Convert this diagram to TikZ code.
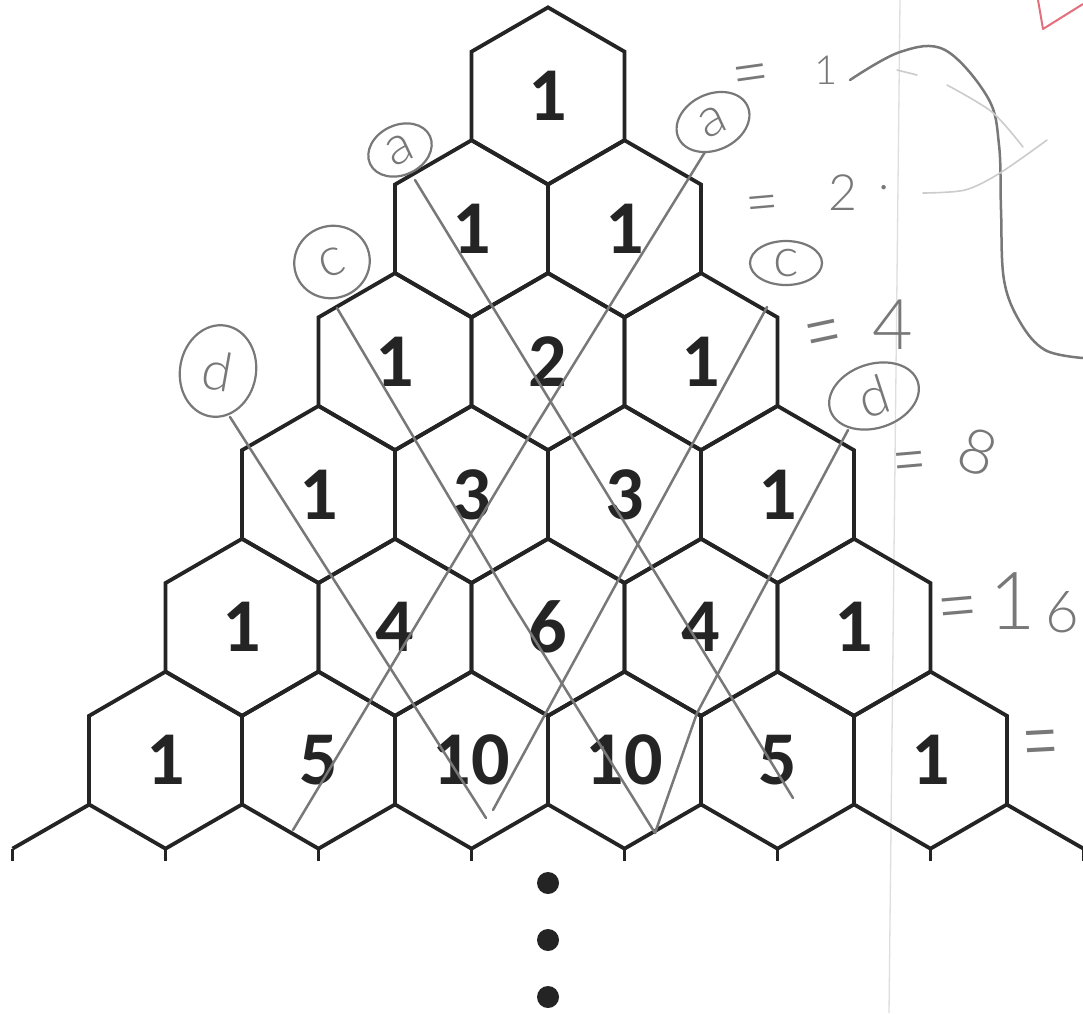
\documentclass[tikz,border=0pt]{standalone}
\usepackage{fontspec}
\usepackage{graphicx}
\usetikzlibrary{shapes.geometric}
\newfontfamily\numfont{Carlito}
\newfontfamily\pencilfont{Lato Light}
\definecolor{hexink}{gray}{0.14}
\definecolor{pencil}{gray}{0.47}
\definecolor{pencillight}{gray}{0.8}
\definecolor{pageline}{gray}{0.87}
\definecolor{redpen}{RGB}{226,112,124}
\begin{document}
\begin{tikzpicture}[x=1pt, y={(0pt,-1pt)},
  hexline/.style={draw=hexink, line width=3.8pt, line join=miter},
  num/.style={font=\numfont\bfseries\fontsize{76}{76}\selectfont, text=hexink, inner sep=0pt},
  pen/.style={draw=pencil, line width=2.5pt, line cap=round, line join=round},
  penfaint/.style={draw=pencillight, line width=1.6pt, line cap=round},
  pentext/.style={text=pencil, inner sep=0pt, font=\pencilfont\fontsize{#1}{#1}\selectfont},
  pentext/.default=50,
  pencirc/.style={ellipse, draw=pencil, line width=2.2pt, inner sep=0pt, text=pencil,
    font=\pencilfont\fontsize{54}{54}\selectfont},
  dotnode/.style={circle, fill=hexink, inner sep=0pt, minimum size=22pt},
]
\clip (0,0) rectangle (1083,1013);
\fill[white] (0,0) rectangle (1083,1013);
% page fold line
\draw[pageline, line width=1.3pt] (900,0) -- (889,1013);
% hexagons and numbers
\foreach \r/\vals in {0/{1},1/{1,1},2/{1,2,1},3/{1,3,3,1},4/{1,4,6,4,1},5/{1,5,10,10,5,1}}{
  \foreach \v [count=\k from 0] in \vals {
    \pgfmathsetmacro\cx{548-76.5*\r+153*\k}
    \pgfmathsetmacro\cy{95.9+132.85*\r}
    \draw[hexline] (\cx,\cy) +(0,-88.5) -- +(76.5,-44.25) -- +(76.5,44.25) -- +(0,88.5)
      -- +(-76.5,44.25) -- +(-76.5,-44.25) -- cycle;
    \node[num] (n\r-\k) at (\cx,\cy) {\v};
  }
}
% next row (cut)
\draw[hexline] (89.5,804.4) -- (12.5,848.65);
\draw[hexline] (1006.5,804.4) -- (1083.5,848.65);
\foreach \j in {0,...,7}{
  \draw[hexline] ({12.5+153*\j},848.65) -- ({12.5+153*\j},861);
}
% dots
\node[dotnode] (dot1) at (548,883) {};
\node[dotnode] (dot2) at (548,940) {};
\node[dotnode] (dot3) at (548,997) {};
% pencil circles
\node[pencirc, minimum width=66pt, minimum height=50pt, rotate=25] (ca1) at (400,150) {a};
\node[pencirc, minimum width=76pt, minimum height=56pt, rotate=25] (ca2) at (713,122) {a};
\node[pencirc, minimum width=76pt, minimum height=72pt, rotate=20] (cc1) at (332,262) {c};
\node[pencirc, minimum width=72pt, minimum height=44pt] (cc2) at (786,263) {c};
\node[pencirc, minimum width=76pt, minimum height=92pt, rotate=-10] (cd1) at (218,371) {d};
\node[pencirc, minimum width=92pt, minimum height=64pt, rotate=18] (cd2) at (874,396) {d};
% pencil lines
\coordinate (aL0) at (415,180); \coordinate (aL1) at (793,798);
\coordinate (aR0) at (705,152); \coordinate (aR1) at (533,430); \coordinate (aR2) at (293,830);
\coordinate (cL0) at (337,308); \coordinate (cL1) at (510,600); \coordinate (cL2) at (655,833);
\coordinate (cR0) at (767,307); \coordinate (cR1) at (493,810);
\coordinate (dL0) at (230,417); \coordinate (dL1) at (486,818);
\coordinate (dR0) at (848,430); \coordinate (dR1) at (697,713); \coordinate (dR2) at (655,833);
\draw[pen] (aL0) -- (aL1);
\draw[pen] (aR0) -- (aR1) -- (aR2);
\draw[pen] (cL0) -- (cL1) -- (cL2);
\draw[pen] (cR0) -- (cR1);
\draw[pen] (dL0) -- (dL1);
\draw[pen] (dR0) -- (dR1) -- (dR2);
% pencil equalities
\node[pentext=50, rotate=8] (eq1) at (752,82) {\scalebox{1.3}[1.5]{=}};
\node[pentext=40] (v1) at (826,70) {1};
\node[pentext=46, rotate=5] (eq2) at (763,210) {\scalebox{1.25}[1.4]{=}};
\node[pentext=50] (v2) at (843,193) {2};
\node[pentext=48] (v2dot) at (884,188) {.};
\node[pentext=50, rotate=12] (eq3) at (825,343) {\scalebox{1.3}[2]{=}};
\node[pentext=70] (v4) at (893,325) {4};
\node[pentext=50, rotate=5] (eq4) at (910,470) {\scalebox{1.2}[1.6]{=}};
\node[pentext=62, rotate=-20] (v8) at (978,452) {8};
\node[pentext=55, rotate=5] (eq5) at (958,617) {\scalebox{1.3}[1.6]{=}};
\node[pentext=80] (v16a) at (1013,601) {1};
\node[pentext=58] (v16b) at (1062,612) {6};
\node[pentext=55, rotate=3] (eq6) at (1041,755) {\scalebox{1.2}[2]{=}};
% brace-like curve
\draw[pen] plot[smooth, tension=0.6] coordinates {(850,80) (900,52) (945,50) (988,98) (999,145) (1001,210) (1004,280) (1020,322) (1045,350) (1083,358)};
% faint marks
\draw[penfaint] (897,70) -- (917,75);
\draw[penfaint] plot[smooth] coordinates {(947,85) (992,112) (1023,147)};
\draw[penfaint] plot[smooth] coordinates {(923,193) (965,190) (1000,173) (1047,140)};
% red mark
\draw[redpen, line width=2pt, line join=round] (1038,0) -- (1043,29) -- (1083,4);
\end{tikzpicture}
\end{document}
